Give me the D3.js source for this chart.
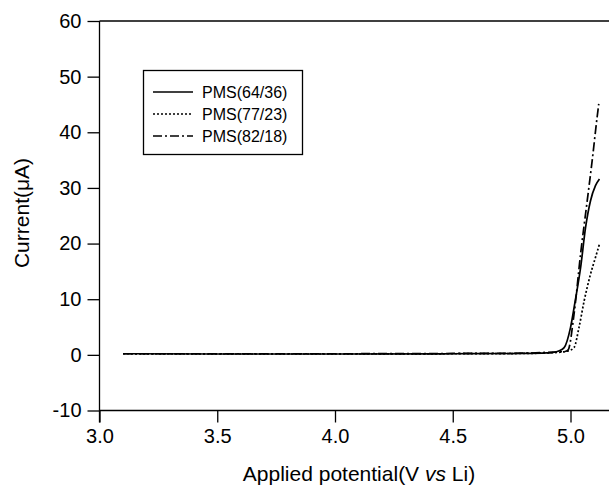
<!DOCTYPE html>
<html><head><meta charset="utf-8">
<script src="https://cdn.jsdelivr.net/npm/d3@7"></script>
<style>body{margin:0;background:#fff;} svg{display:block;} text{font-family:"Liberation Sans",Arial,sans-serif;fill:#000;}</style>
</head><body><svg id="c" width="609" height="493"></svg>
<script>
const seriesNames = ["PMS(64/36)", "PMS(77/23)", "PMS(82/18)"];
const dashStyles = [null, "2,2", "9,3,2,3"];
const xTicks = [3.0, 3.5, 4.0, 4.5, 5.0];
const yTicks = [-10, 0, 10, 20, 30, 40, 50, 60];
// potential (V vs Li)
const v64 = [3.1, 3.5, 4.0, 4.5, 4.8, 4.9, 4.92, 4.95, 4.973, 5.0, 5.02, 5.043, 5.064, 5.085, 5.106, 5.123];
const i64 = [0.2, 0.15, 0.15, 0.2, 0.25, 0.35, 0.4, 0.7, 1.3, 4.9, 9.7, 15.7, 22.9, 27.7, 30.4, 31.6];
const v77 = [3.1, 3.5, 4.0, 4.5, 4.8, 4.9, 4.95, 4.99, 5.015, 5.036, 5.058, 5.085, 5.106, 5.123];
const i77 = [0.2, 0.15, 0.15, 0.2, 0.25, 0.35, 0.45, 0.7, 1.3, 4.9, 9.7, 14.5, 17.5, 19.9];
const v82 = [3.1, 3.5, 4.0, 4.5, 4.8, 4.9, 4.95, 4.975, 4.99, 5.015, 5.043, 5.071, 5.092, 5.113, 5.12];
const i82 = [0.2, 0.2, 0.2, 0.25, 0.3, 0.45, 0.55, 0.6, 0.9, 7.3, 18.2, 27.7, 34.9, 42.7, 45.1];

const svg = d3.select("#c");
const L = 99.5, T = 21, B = 410.5;
const x = d3.scaleLinear().domain([3.0, 5.0]).range([L, 570.5]);
const y = d3.scaleLinear().domain([-10, 60]).range([B, T]);
const xMaxPx = 609;

svg.append("line").attr("x1", L).attr("x2", xMaxPx).attr("y1", T).attr("y2", T).attr("stroke", "#000").attr("stroke-width", 1.3);

const xAxis = svg.append("g").attr("transform", `translate(0,${B})`)
  .call(d3.axisBottom(x).tickValues(xTicks).tickFormat(d3.format(".1f")).tickSize(12).tickPadding(6));
xAxis.select(".domain").remove();
svg.append("line").attr("x1", L).attr("x2", xMaxPx).attr("y1", B).attr("y2", B).attr("stroke", "#000").attr("stroke-width", 1.3);

const yAxis = svg.append("g").attr("transform", `translate(${L},0)`)
  .call(d3.axisLeft(y).tickValues(yTicks).tickFormat(d => String(d)).tickSize(12).tickPadding(6));
yAxis.select(".domain").remove();
svg.append("line").attr("x1", L).attr("x2", L).attr("y1", T).attr("y2", B + 12).attr("stroke", "#000").attr("stroke-width", 1.3);

svg.selectAll(".tick line").attr("stroke-width", 1.3);
svg.selectAll(".tick text").style("font-size", "20px").style("font-family", "'Liberation Sans',Arial,sans-serif").attr("fill", "#000");

const line = d3.line().x(d => x(d[0])).y(d => y(d[1])).curve(d3.curveMonotoneX);
const data = [d3.zip(v64, i64), d3.zip(v77, i77), d3.zip(v82, i82)];
data.forEach((d, k) => {
  svg.append("path").datum(d).attr("d", line).attr("fill", "none").attr("stroke", "#000")
    .attr("stroke-width", 1.7).attr("stroke-dasharray", dashStyles[k]);
});

// legend
const lg = svg.append("g");
lg.append("rect").attr("x", 143.5).attr("y", 70.5).attr("width", 159).attr("height", 84).attr("fill", "#fff").attr("stroke", "#000").attr("stroke-width", 1.3);
seriesNames.forEach((n, k) => {
  const yy = 92 + k * 22;
  lg.append("line").attr("x1", 153).attr("x2", 193).attr("y1", yy).attr("y2", yy).attr("stroke", "#000").attr("stroke-width", 1.3).attr("stroke-dasharray", dashStyles[k]);
  lg.append("text").attr("x", 202).attr("y", yy).attr("dy", "0.35em").style("font-size", "16px").text(n);
});

// axis titles
svg.append("text").attr("transform", "translate(29,213) rotate(-90)").attr("text-anchor", "middle").style("font-size", "21px").text("Current(μA)");
const xt = svg.append("text").attr("x", 359).attr("y", 481).attr("text-anchor", "middle").style("font-size", "21px");
xt.append("tspan").text("Applied potential(V ");
xt.append("tspan").style("font-style", "italic").text("vs");
xt.append("tspan").text(" Li)");
</script></body></html>
